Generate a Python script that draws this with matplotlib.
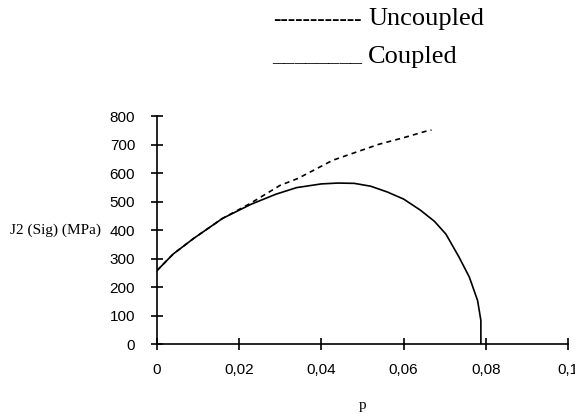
import matplotlib
matplotlib.use('Agg')
import matplotlib.pyplot as plt

# data
p_coupled = [0, 0.004, 0.009, 0.016, 0.023, 0.029, 0.034, 0.040, 0.044, 0.048,
             0.052, 0.056, 0.060, 0.064, 0.0675, 0.0703, 0.0735, 0.076, 0.078,
             0.0788, 0.0788]
j2_coupled = [258, 317, 372, 442, 492, 527, 550, 563, 566, 565,
              555, 535, 510, 472, 432, 387, 306, 236, 154,
              84, 0]

p_uncoupled = [0, 0.004, 0.009, 0.016, 0.0228, 0.030, 0.0343, 0.0428, 0.048,
               0.054, 0.060, 0.0655, 0.0668]
j2_uncoupled = [258, 317, 372, 442, 495, 558, 582, 646, 672,
                702, 725, 748, 752]

x_ticks = [0, 0.02, 0.04, 0.06, 0.08, 0.1]
x_ticklabels = ['0', '0,02', '0,04', '0,06', '0,08', '0,1']
y_ticks = [0, 100, 200, 300, 400, 500, 600, 700, 800]

serif = ['Liberation Serif', 'DejaVu Serif']
sans = ['Liberation Sans', 'DejaVu Sans']

fig = plt.figure(figsize=(5.75, 4.17), dpi=100)
ax = fig.add_axes([0.2725, 0.174, 0.7155, 0.547])

ax.plot(p_uncoupled, j2_uncoupled, color='black', lw=1.2, linestyle=(0, (3, 2.5)))
ax.plot(p_coupled, j2_coupled, color='black', lw=1.2)

ax.set_xlim(0, 0.1)
ax.set_ylim(0, 800)
ax.set_xticks(x_ticks)
ax.set_xticklabels(x_ticklabels, family=sans, fontsize=11)
ax.set_yticks(y_ticks)
ax.set_yticklabels([str(v) for v in y_ticks], family=sans, fontsize=11)
ax.tick_params(direction='inout', length=9, width=1.2, pad=11)
ax.tick_params(axis='x', pad=9)

for s in ['top', 'right']:
    ax.spines[s].set_visible(False)
for s in ['left', 'bottom']:
    ax.spines[s].set_linewidth(1.2)

ax.set_xlabel('p', family=serif, fontsize=11)
ax.xaxis.set_label_coords(0.5, -0.24)
ax.set_ylabel('J2 (Sig) (MPa)', family=serif, fontsize=11, rotation=0,
              ha='right', va='center')
ax.yaxis.set_label_coords(-0.135, 0.5)

# legend written as text lines: marks then names
fig.text(362 / 575, 1 - 25 / 417, '------------', family=serif,
         fontsize=16, ha='right', va='baseline')
fig.text(368 / 575, 1 - 25 / 417, 'Uncoupled', family=serif,
         fontsize=19, ha='left', va='baseline')
fig.text(362 / 575, 1 - 61 / 417, '________', family=serif,
         fontsize=16, ha='right', va='baseline')
fig.text(368 / 575, 1 - 63 / 417, 'Coupled', family=serif,
         fontsize=19, ha='left', va='baseline')

fig.savefig('out.png', dpi=100)
